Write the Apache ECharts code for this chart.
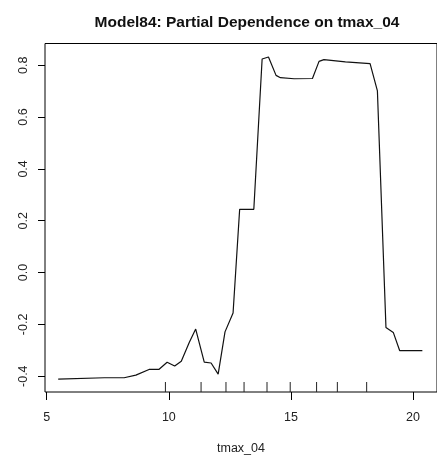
<!DOCTYPE html>
<html>
<head>
<meta charset="utf-8">
<script src="https://cdn.jsdelivr.net/npm/echarts@6/dist/echarts.min.js"></script>
<style>html,body{margin:0;padding:0;background:#fff;}#chart{width:437px;height:460px;}</style>
</head>
<body>
<div id="chart"></div>
<script>
const xValues = [5.47, 7.36, 8.17, 8.65, 9.19, 9.59, 9.93, 10.24, 10.51, 10.84, 11.10, 11.45, 11.73, 12.02, 12.30, 12.63, 12.90, 13.48, 13.82, 14.08, 14.39, 14.57, 15.13, 15.88, 16.15, 16.35, 17.23, 18.24, 18.54, 18.89, 19.19, 19.45, 20.38];
const yValues = [-0.411, -0.406, -0.406, -0.396, -0.374, -0.374, -0.346, -0.361, -0.342, -0.269, -0.218, -0.346, -0.349, -0.392, -0.229, -0.156, 0.244, 0.244, 0.824, 0.832, 0.761, 0.752, 0.748, 0.749, 0.815, 0.822, 0.813, 0.806, 0.701, -0.212, -0.231, -0.301, -0.301];
const rugValues = [9.86, 11.32, 12.34, 13.08, 14.02, 14.97, 16.05, 16.9, 18.1];
const xTicks = [5, 10, 15, 20];
const yTicks = [-0.4, -0.2, 0.0, 0.2, 0.4, 0.6, 0.8];

const X_MIN = 4.93, X_MAX = 20.98, Y_MIN = -0.461, Y_MAX = 0.884;
const lineData = xValues.map((x, i) => [x, yValues[i]]);
const chart = echarts.init(document.getElementById('chart'));
const font = 'Liberation Sans, Arial, sans-serif';
chart.setOption({
  animation: false,
  backgroundColor: '#fff',
  title: {
    text: 'Model84: Partial Dependence on tmax_04',
    left: 242, top: 10, textAlign: 'center',
    textStyle: {fontFamily: font, fontWeight: 'bold', fontSize: 15.5, color: '#111'}
  },
  grid: {left: 45, top: 43.5, right: -4, bottom: 63, show: true, borderColor: '#000', borderWidth: 1, backgroundColor: 'transparent'},
  xAxis: {
    type: 'value', min: X_MIN, max: X_MAX,
    name: 'tmax_04', nameLocation: 'middle', nameGap: 50,
    nameTextStyle: {fontFamily: font, fontSize: 12.5, color: '#222'},
    axisLine: {show: false, onZero: false},
    splitLine: {show: false},
    axisTick: {show: true, length: 8, customValues: xTicks, lineStyle: {color: '#000'}},
    axisLabel: {customValues: xTicks, fontFamily: font, fontSize: 12.5, color: '#222', margin: 19}
  },
  yAxis: {
    type: 'value', min: Y_MIN, max: Y_MAX,
    axisLine: {show: false, onZero: false},
    splitLine: {show: false},
    axisTick: {show: true, length: 7, customValues: yTicks, lineStyle: {color: '#000'}},
    axisLabel: {customValues: yTicks, rotate: 90, fontFamily: font, fontSize: 12.5, color: '#222', margin: 15,
      formatter: v => v.toFixed(1)}
  },
  series: [
    {type: 'line', data: lineData, showSymbol: false, symbol: 'none',
     lineStyle: {color: '#111', width: 1.2}},
    {type: 'custom', data: rugValues.map(v => [v, Y_MIN]),
     renderItem: function (params, api) {
       const p = api.coord([api.value(0), api.value(1)]);
       return {type: 'line', shape: {x1: p[0], y1: p[1], x2: p[0], y2: p[1] - 10},
               style: {stroke: '#222', lineWidth: 1}};
     }}
  ]
});
</script>
</body>
</html>
